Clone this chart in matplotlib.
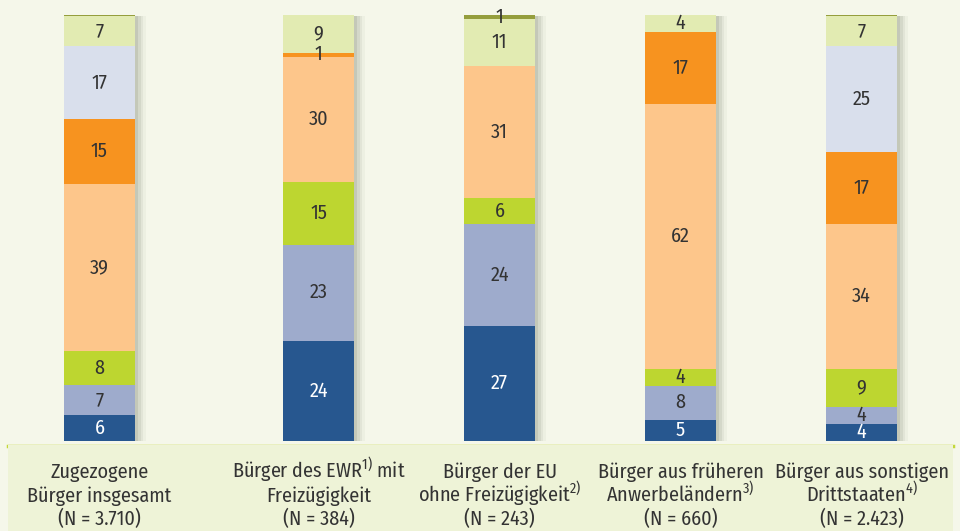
import matplotlib.pyplot as plt
import matplotlib.patheffects as pe
from matplotlib.patches import Rectangle
from matplotlib.lines import Line2D
from matplotlib import font_manager
import matplotlib.transforms as mtransforms
import numpy as np

# pick a condensed sans if there is one
avail = {f.name for f in font_manager.fontManager.ttflist}
cands = ['Fira Sans Condensed', 'Roboto Condensed', 'PT Sans Narrow', 'Asap Condensed',
         'Encode Sans Condensed', 'Open Sans Condensed', 'Liberation Sans Narrow', 'Open Sans']
font = next(c for c in cands if c in avail)

plt.rcParams['font.family'] = [font, 'DejaVu Sans']
plt.rcParams['mathtext.fontset'] = 'custom'
plt.rcParams['mathtext.rm'] = font

# categories (x-axis labels, one entry per line)
labels = [
    ["Zugezogene", "Bürger insgesamt", "(N = 3.710)"],
    ["Bürger des EWR$^{1)}$ mit", "Freizügigkeit", "(N = 384)"],
    ["Bürger der EU", "ohne Freizügigkeit$^{2)}$", "(N = 243)"],
    ["Bürger aus früheren", "Anwerbeländern$^{3)}$", "(N = 660)"],
    ["Bürger aus sonstigen", "Drittstaaten$^{4)}$", "(N = 2.423)"],
]

# segment values from bottom to top (percent)
seg_dark_blue = [6, 24, 27, 5, 4]
seg_blue_grey = [7, 23, 24, 8, 4]
seg_lime = [8, 15, 6, 4, 9]
seg_peach = [39, 30, 31, 62, 34]
seg_orange = [15, 1, 0, 17, 17]
seg_lavender = [17, 0, 0, 0, 25]
seg_pale_green = [7, 9, 11, 4, 7]
seg_olive = [0.3, 0, 1, 0, 0.3]

series = [seg_dark_blue, seg_blue_grey, seg_lime, seg_peach,
          seg_orange, seg_lavender, seg_pale_green, seg_olive]
colors = ['#27578f', '#9eabcc', '#bdd630', '#fdc68b',
          '#f7931f', '#d9dfec', '#e2ebb2', '#959e3d']
text_colors = ['white', '#333333', '#333333', '#333333',
               '#333333', '#333333', '#333333', '#333333']

# layout
xpos = np.array([0, 1.21, 2.21, 3.21, 4.21])
width = 0.392
bg = '#f5f7ea'
baselines = [53 / 531, 29 / 531, 6 / 531]

fig = plt.figure(figsize=(9.6, 5.31), dpi=100, facecolor=bg)

# bottom label panel
fig.patches.append(Rectangle((8 / 960, 0), 945 / 960, 86 / 531, transform=fig.transFigure,
                             facecolor='#eef3d7', edgecolor='none', zorder=0))
fig.lines.append(Line2D([8 / 960, 953 / 960], [85 / 531, 85 / 531], transform=fig.transFigure,
                        color='#c3d83a', linewidth=2.5, zorder=0))

ax = fig.add_axes([0, (531 - 441) / 531, 1, 426 / 531])
ax.set_zorder(2)
ax.set_xlim(-0.5497, 4.754)
ax.set_ylim(0, 100)
ax.axis('off')

data = np.array(series, dtype=float)
totals = data.sum(axis=0)
pct = data / totals * 100

# soft shadow behind each bar
for off, a in [(8, 0.06), (6, 0.09), (4, 0.13), (2, 0.18)]:
    ax.bar(xpos, [100] * len(xpos), width, color=bg, zorder=1,
           path_effects=[pe.SimplePatchShadow(offset=(off, -1), shadow_rgbFace='#7d8170', alpha=a)])

bottom = np.zeros(len(xpos))
for vals, h, c, tc in zip(series, pct, colors, text_colors):
    ax.bar(xpos, h, width, bottom=bottom, color=c, zorder=2)
    for i, v in enumerate(vals):
        if v >= 1:
            ax.text(xpos[i], bottom[i] + h[i] / 2, str(int(v)), ha='center', va='center',
                    fontsize=14.5, color=tc, zorder=3)
    bottom += h

trans = mtransforms.blended_transform_factory(ax.transData, fig.transFigure)
for x, lines in zip(xpos, labels):
    for y, line in zip(baselines, lines):
        ax.text(x, y, line, transform=trans, ha='center', va='baseline',
                fontsize=14.5, color='#333333', clip_on=False)

fig.savefig('out.png', dpi=100, facecolor=bg)
